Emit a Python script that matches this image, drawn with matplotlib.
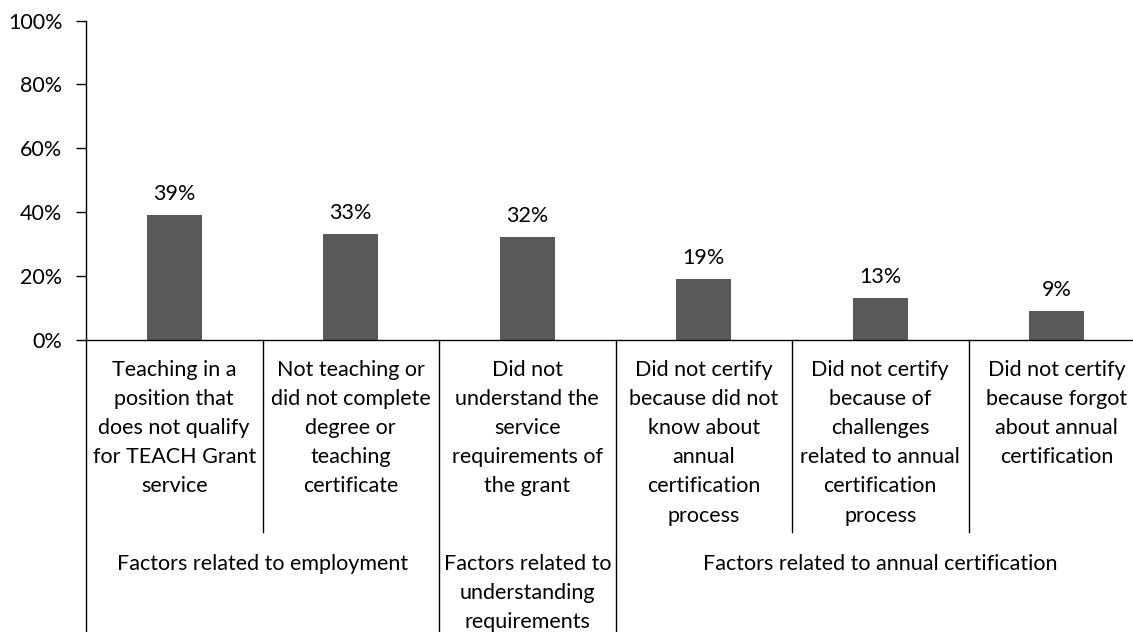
import matplotlib
matplotlib.use("Agg")
import matplotlib.pyplot as plt
import matplotlib.transforms as mtransforms
from matplotlib.ticker import PercentFormatter

plt.rcParams['font.family'] = ['Lato', 'DejaVu Sans']

categories = [
    "Teaching in a\nposition that\ndoes not qualify\nfor TEACH Grant\nservice",
    "Not teaching or\ndid not complete\ndegree or\nteaching\ncertificate",
    "Did not\nunderstand the\nservice\nrequirements of\nthe grant",
    "Did not certify\nbecause did not\nknow about\nannual\ncertification\nprocess",
    "Did not certify\nbecause of\nchallenges\nrelated to annual\ncertification\nprocess",
    "Did not certify\nbecause forgot\nabout annual\ncertification",
]
values = [0.39, 0.33, 0.32, 0.19, 0.13, 0.09]
groups = ["Factors related to employment",
          "Factors related to\nunderstanding\nrequirements",
          "Factors related to annual certification"]
group_sizes = [2, 1, 3]

FS = 15.5
W, H = 1133, 632
fig = plt.figure(figsize=(W / 100, H / 100), dpi=100)
ax = fig.add_axes([86 / W, 1 - 339.5 / H, (1145 - 86) / W, (339.5 - 20.7) / H])

x = list(range(len(values)))
bars = ax.bar(x, values, width=0.31, color='#595959')
ax.bar_label(bars, labels=[f"{v:.0%}" for v in values], padding=8, fontsize=FS)

ax.set_xlim(-0.5, len(values) - 0.5)
ax.set_ylim(0, 1)
ax.set_yticks([0, 0.2, 0.4, 0.6, 0.8, 1.0])
ax.yaxis.set_major_formatter(PercentFormatter(1.0, decimals=0))
ax.tick_params(axis='y', length=7, width=1, pad=10, labelsize=FS)
ax.set_xticks([])
for s in ['top', 'right']:
    ax.spines[s].set_visible(False)
ax.spines['left'].set_linewidth(1)
ax.spines['bottom'].set_linewidth(1)

# multi-level category axis below the plot
trans = mtransforms.blended_transform_factory(ax.transData, fig.transFigure)
y_axis = 1 - 339.5 / H
y_mid = 1 - 532 / H
for i, lab in enumerate(categories):
    ax.text(i, 1 - 360 / H, lab, transform=trans, ha='center', va='top',
            fontsize=FS, linespacing=1.57)

start = 0
bounds = [-0.5]
for g, n in zip(groups, group_sizes):
    center = start + (n - 1) / 2
    ax.text(center, 1 - 554 / H, g, transform=trans, ha='center', va='top',
            fontsize=FS, linespacing=1.57)
    for k in range(start, start + n - 1):
        ax.plot([k + 0.5, k + 0.5], [y_axis, y_mid], color='black', lw=1,
                transform=trans, clip_on=False)
    start += n
    bounds.append(start - 0.5)
for b in bounds:
    ax.plot([b, b], [y_axis, 0], color='black', lw=1, transform=trans, clip_on=False)

fig.savefig("out.png", dpi=100)
